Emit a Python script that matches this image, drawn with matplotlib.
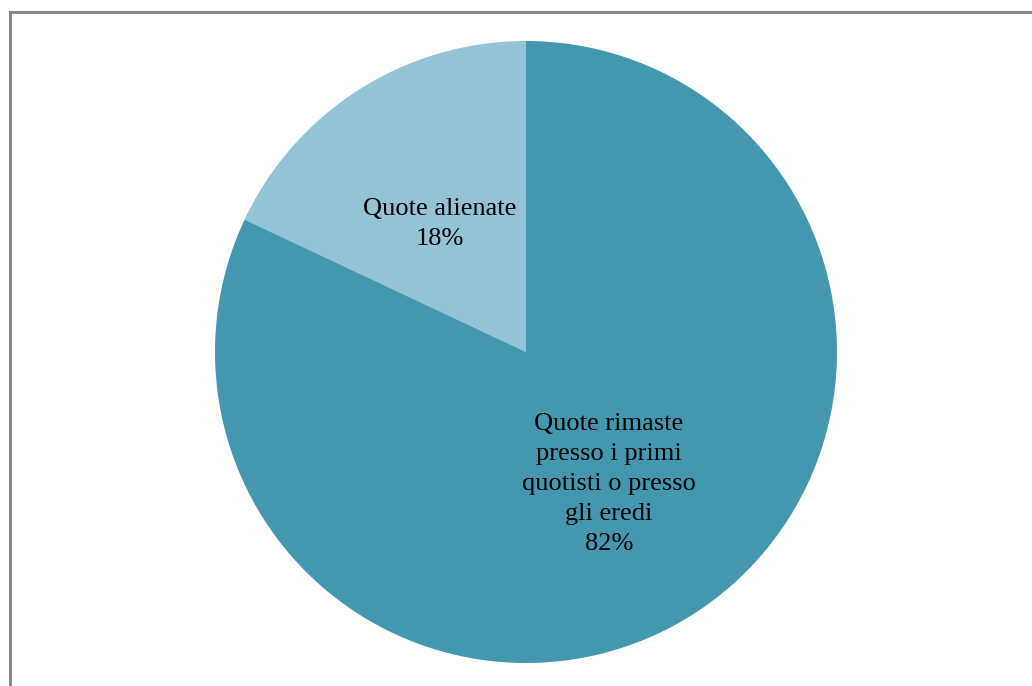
import matplotlib.pyplot as plt
from matplotlib.patches import Rectangle

labels = ['Quote alienate', 'Quote rimaste\npresso i primi\nquotisti o presso\ngli eredi']
shares = [18, 82]
colors = ['#93c3d5', '#4398b0']

plt.rcParams['font.family'] = ['Liberation Serif', 'DejaVu Serif']

fig = plt.figure(figsize=(10.32, 6.86), dpi=100)
ax = fig.add_axes([215 / 1032, 23 / 686, 622 / 1032, 622 / 686])

wedges, texts = ax.pie(shares, colors=colors, startangle=90, counterclock=True,
                       radius=1, labels=[f'{l}\n{v}%' for l, v in zip(labels, shares)],
                       labeldistance=0.5,
                       textprops=dict(fontsize=19, ha='center', va='center',
                                      multialignment='center', linespacing=1.47))
# nudge label positions a bit
texts[0].set_position((-0.277, 0.412))
texts[1].set_position((0.267, -0.424))
for t in texts:
    t.set_horizontalalignment('center')
ax.set_xlim(-1, 1)
ax.set_ylim(-1, 1)
ax.set_aspect('equal')
ax.axis('off')

# chart frame
fig.patches.append(Rectangle((9.5 / 1032, -0.1), 1.2, (686 - 11.5) / 686 + 0.1,
                             transform=fig.transFigure, fill=False,
                             edgecolor='#888888', linewidth=2.2))

fig.savefig('out.png', dpi=100)
